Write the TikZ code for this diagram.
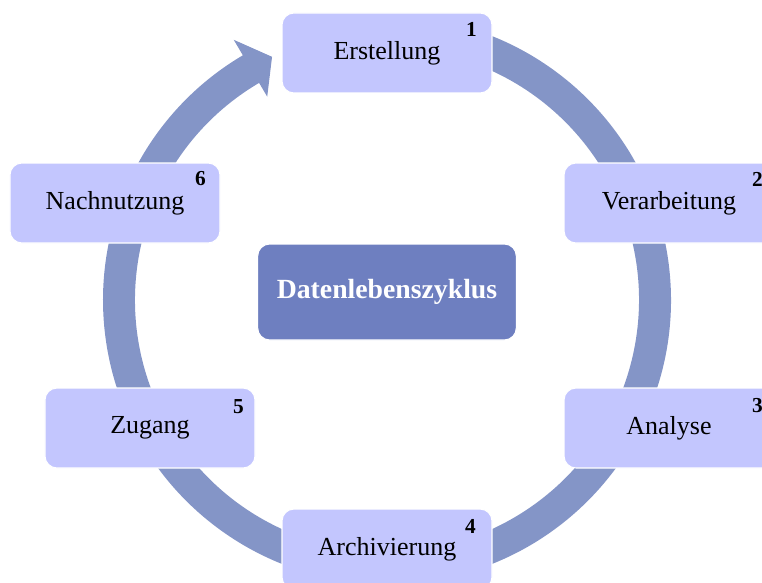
\documentclass[tikz,border=0pt]{standalone}
\usepackage{fontspec}
\setmainfont{Liberation Serif}
\usetikzlibrary{positioning}
\definecolor{stagefill}{RGB}{195,198,254}
\definecolor{ringblue}{RGB}{132,149,199}
\definecolor{corefill}{RGB}{110,127,192}

\begin{document}
\begin{tikzpicture}[
					x=0.75pt, y=0.75pt,
					stage/.style={
							rectangle,
							rounded corners=9pt,
							draw=white,
							line width=0.8pt,
							fill=stagefill,
							minimum width=157.5pt,
							minimum height=60pt,
							inner sep=0pt,
							font=\fontsize{19.5}{22}\selectfont
						},
					core/.style={
							stage,
							fill=corefill,
							minimum width=194pt,
							minimum height=72pt,
							text=white,
							font=\fontsize{20.8}{24}\selectfont\bfseries
						},
					stagenum/.style={
							inner sep=0pt,
							font=\fontsize{16}{18}\selectfont\bfseries
						}
				]
				\useasboundingbox (-387,-282) rectangle (375,300);

				% ring with arrow head
				\fill[ringblue] (95:284) arc[start angle=95, end angle=-239.5, radius=284]
					-- (120.5:302) -- (115.3:269) -- (120.5:236)
					-- (120.5:252) arc[start angle=-239.5, end angle=95, radius=252] -- cycle;

				\node[core] (core) at (0, 8) {Datenlebenszyklus};

				\node[stage] (erst) at (0, 247) {Erstellung};
				\node[stage] (verarb) at (282, 97) {Verarbeitung};
				\node[stage] (analyse) at (282, -128) {Analyse};
				\node[stage] (archiv) at (0, -249) {Archivierung};
				\node[stage] (zugang) at (-237, -128) {Zugang};
				\node[stage] (nachn) at (-272, 97) {Nachnutzung};

				\node[stagenum] (n1) at ([shift={(-21,-17)}]erst.north east) {1};
				\node[stagenum] (n2) at ([shift={(-17,-17)}]verarb.north east) {2};
				\node[stagenum] (n3) at ([shift={(-17,-18)}]analyse.north east) {3};
				\node[stagenum] (n4) at ([shift={(-22,-18)}]archiv.north east) {4};
				\node[stagenum] (n5) at ([shift={(-17,-19)}]zugang.north east) {5};
				\node[stagenum] (n6) at ([shift={(-20,-16)}]nachn.north east) {6};
		\end{tikzpicture}
\end{document}
